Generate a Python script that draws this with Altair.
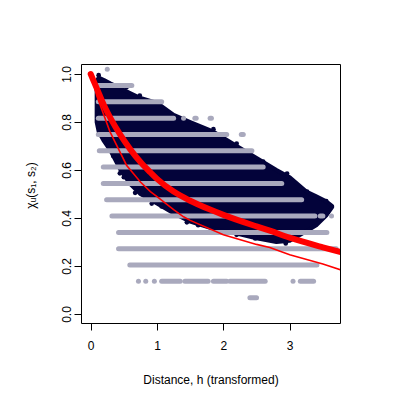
import altair as alt
import pandas as pd

# ---- grey band segments (discrete empirical values) ----
band_y = [1.02, 0.952, 0.884, 0.816, 0.816, 0.816, 0.816, 0.748, 0.748, 0.68, 0.612,
          0.544, 0.476, 0.408, 0.408, 0.408, 0.34, 0.272, 0.204,
          0.136, 0.136, 0.136, 0.136, 0.136, 0.136, 0.136, 0.136, 0.136, 0.068]
band_x0 = [0.25, 0.115, 0.115, 0.115, 1.40, 1.57, 1.80, 0.115, 2.27, 0.13, 0.19,
           0.19, 0.24, 0.32, 3.46, 3.63, 0.42, 0.42, 0.59,
           0.72, 0.83, 0.96, 1.07, 1.42, 1.85, 2.10, 3.05, 3.16, 2.40]
band_x1 = [0.25, 0.62, 1.07, 1.25, 1.40, 1.59, 1.82, 2.05, 2.30, 2.43, 2.60,
           2.88, 3.18, 3.38, 3.50, 3.63, 3.56, 3.70, 3.41,
           0.72, 0.83, 0.96, 1.35, 1.77, 2.05, 2.63, 3.05, 3.36, 2.50]

# ---- navy point cloud: outline (upper / lower edge) ----
cloud_x = [0.09, 0.12, 0.2, 0.3, 0.45, 0.6, 0.75, 1.0, 1.25, 1.5, 1.85, 2.2, 2.5,
           2.8, 3.0, 3.25, 3.4, 3.55, 3.64]
cloud_upper = [0.97, 0.985, 0.975, 0.96, 0.94, 0.92, 0.90, 0.88, 0.83, 0.80, 0.76,
               0.70, 0.65, 0.60, 0.57, 0.51, 0.49, 0.47, 0.45]
cloud_lower = [0.80, 0.76, 0.72, 0.68, 0.60, 0.54, 0.50, 0.46, 0.42, 0.385, 0.355,
               0.335, 0.315, 0.30, 0.305, 0.345, 0.37, 0.41, 0.445]

# ---- navy edge points ----
dot_x = [0.27, 0.34, 0.44, 0.50, 0.67, 0.79, 0.92, 1.07, 1.45, 1.62, 2.2, 2.48, 2.94,
         0.54, 0.74, 1.85, 2.2, 2.6, 2.96, 3.26, 3.55, 0.12]
dot_y = [0.718, 0.658, 0.586, 0.57, 0.505, 0.51, 0.46, 0.448, 0.382, 0.37, 0.33, 0.315, 0.294,
         0.945, 0.91, 0.77, 0.71, 0.635, 0.585, 0.51, 0.47, 0.995]

# ---- red curves ----
thick_x = [0.0, 0.1, 0.2, 0.3, 0.45, 0.6, 0.75, 0.9, 1.0, 1.25, 1.5, 1.8, 2.0, 2.5, 2.7,
           3.0, 3.5, 3.8]
thick_y = [1.0, 0.935, 0.87, 0.815, 0.745, 0.685, 0.633, 0.59, 0.563, 0.51, 0.472, 0.435,
           0.413, 0.365, 0.347, 0.318, 0.278, 0.256]
thin_x = [0.0, 0.05, 0.09, 0.29, 0.54, 0.75, 0.9, 1.0, 1.25, 1.4, 1.5, 2.0, 2.5, 2.7, 3.0,
          3.5, 3.8]
thin_y = [1.0, 0.955, 0.91, 0.76, 0.62, 0.55, 0.51, 0.489, 0.435, 0.405, 0.39, 0.33, 0.29,
          0.277, 0.247, 0.208, 0.181]

NAVY = "#03033a"
GREY = "#a9a9bd"
RED = "#ff0000"
FONT = "Liberation Sans"

xs = alt.Scale(domain=[-0.146, 3.758], nice=False, zero=False)
ys = alt.Scale(domain=[-0.0375, 1.0417], nice=False, zero=False)

xaxis = alt.Axis(values=[0, 1, 2, 3], format="d", title="Distance, h (transformed)",
                 grid=False, domain=False, tickSize=7, tickColor="black",
                 labelPadding=10, titlePadding=23)
yaxis = alt.Axis(values=[0, 0.2, 0.4, 0.6, 0.8, 1.0], format=".1f", title="χᵤ(s₁, s₂)",
                 grid=False, domain=False, tickSize=7, tickColor="black",
                 labelAngle=270, labelAlign="center", labelBaseline="bottom",
                 labelPadding=1, titleAngle=270, titleBaseline="bottom",
                 titleX=-44, titleY=121)

cloud_df = pd.DataFrame({"x": cloud_x, "lo": cloud_lower, "hi": cloud_upper})
dots_df = pd.DataFrame({"x": dot_x, "y": dot_y})
band_df = pd.DataFrame({"y": band_y, "x0": band_x0, "x1": band_x1})
thick_df = pd.DataFrame({"x": thick_x, "y": thick_y})
thin_df = pd.DataFrame({"x": thin_x, "y": thin_y})

cloud = alt.Chart(cloud_df).mark_area(color=NAVY, stroke=NAVY, strokeWidth=4,
                                      strokeJoin="round", clip=True).encode(
    x=alt.X("x:Q", scale=xs, axis=xaxis),
    y=alt.Y("hi:Q", scale=ys, axis=yaxis),
    y2="lo:Q",
)
dots = alt.Chart(dots_df).mark_circle(color=NAVY, opacity=1, size=22).encode(
    x=alt.X("x:Q", scale=xs), y=alt.Y("y:Q", scale=ys)
)
bands = alt.Chart(band_df).mark_rule(color=GREY, strokeWidth=5, strokeCap="round").encode(
    x=alt.X("x0:Q", scale=xs), x2="x1:Q", y=alt.Y("y:Q", scale=ys)
)
thick = alt.Chart(thick_df).mark_line(color=RED, strokeWidth=6, strokeCap="round",
                                      interpolate="monotone", clip=True).encode(
    x=alt.X("x:Q", scale=xs), y=alt.Y("y:Q", scale=ys)
)
thin = alt.Chart(thin_df).mark_line(color=RED, strokeWidth=1.6, clip=True).encode(
    x=alt.X("x:Q", scale=xs), y=alt.Y("y:Q", scale=ys)
)

chart = alt.layer(cloud, dots, bands, thick, thin).properties(
    width=259, height=259,
    autosize=alt.AutoSizeParams(type="none"),
    padding={"left": 73, "top": 56, "right": 57, "bottom": 74},
    background="white",
).configure_view(stroke="black", strokeWidth=1).configure_axis(
    labelFont=FONT, labelFontSize=12, labelColor="black",
    titleFont=FONT, titleFontSize=12, titleFontWeight="normal", titleColor="black",
)

chart.save("out.html", embed_options={"renderer": "svg", "actions": False})
